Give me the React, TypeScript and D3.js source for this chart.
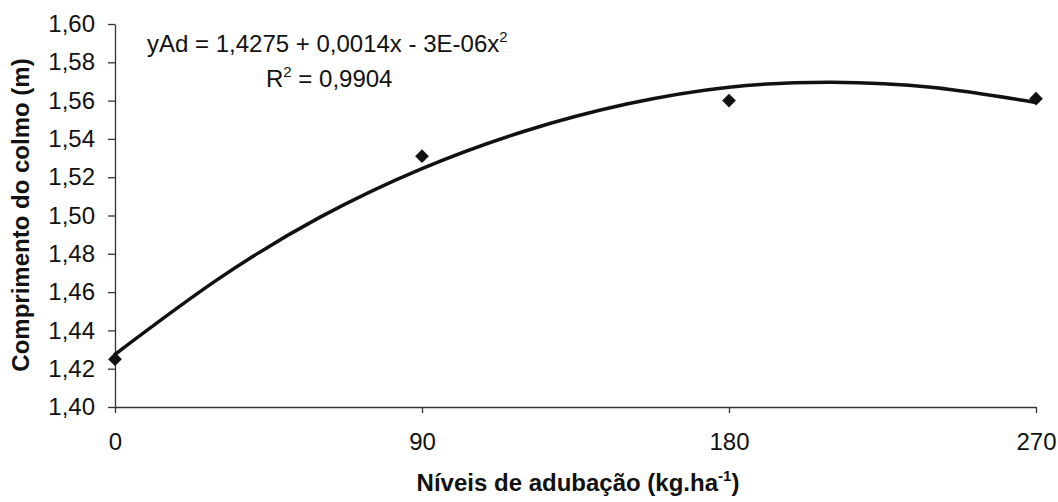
import React from "react";
import * as d3 from "d3";

// observed means
const doses = [0, 90, 180, 270];
const lengths = [1.425, 1.531, 1.56, 1.561];

// trend line
const trendX = [0, 30, 60, 90, 120, 150, 180, 210, 240, 270];
const trendY = [1.4275, 1.4665, 1.4990, 1.5245, 1.5440, 1.5582, 1.5670, 1.5696, 1.5668, 1.5590];

const yTicks = [1.4, 1.42, 1.44, 1.46, 1.48, 1.5, 1.52, 1.54, 1.56, 1.58, 1.6];
const xTicks = [0, 90, 180, 270];

export default function App() {
    const ref = React.useRef<SVGSVGElement>(null);

    React.useEffect(() => {
        drawChart();
    }, []);

    function drawChart() {
        const svg = d3.select(ref.current);
        svg.selectAll("*").remove();

        const font = "'Liberation Sans', Arial, sans-serif";
        const left = 115,
            right = 1036,
            top = 24,
            bottom = 407;

        var x = d3.scaleLinear().domain([0, 270]).range([left, right]);
        var y = d3.scaleLinear().domain([1.4, 1.6]).range([bottom, top]);

        const comma = (d: number) => d3.format(".2f")(d).replace(".", ",");

        // y axis
        var yAxis = svg
            .append("g")
            .attr("transform", `translate(${left},0)`)
            .call(
                d3
                    .axisLeft(y)
                    .tickValues(yTicks)
                    .tickFormat((d) => comma(+d))
                    .tickSize(7)
                    .tickSizeOuter(0)
                    .tickPadding(13)
            );
        yAxis.select(".domain").attr("stroke", "#333").attr("stroke-width", 1.3);
        yAxis.selectAll(".tick line").attr("stroke", "#333").attr("stroke-width", 1.3);
        yAxis
            .selectAll(".tick text")
            .attr("font-family", font)
            .attr("font-size", 24)
            .attr("fill", "#111");

        // x axis
        var xAxis = svg
            .append("g")
            .attr("transform", `translate(0,${bottom})`)
            .call(
                d3
                    .axisBottom(x)
                    .tickValues(xTicks)
                    .tickFormat((d) => String(d))
                    .tickSize(6)
                    .tickSizeOuter(0)
                    .tickPadding(20)
            );
        xAxis.select(".domain").attr("stroke", "#333").attr("stroke-width", 1.3);
        xAxis.selectAll(".tick line").attr("stroke", "#333").attr("stroke-width", 1.3);
        xAxis
            .selectAll(".tick text")
            .attr("font-family", font)
            .attr("font-size", 24)
            .attr("fill", "#111");

        // trend line
        const trend = trendX.map((d, i) => ({ x: d, y: trendY[i] }));
        svg.append("path")
            .datum(trend)
            .attr("fill", "none")
            .attr("stroke", "#111")
            .attr("stroke-width", 3.5)
            .attr("stroke-linecap", "round")
            .attr(
                "d",
                d3
                    .line<{ x: number; y: number }>()
                    .x((d) => x(d.x))
                    .y((d) => y(d.y))
                    .curve(d3.curveNatural)
            );

        // points
        svg.selectAll(".pt")
            .data(doses)
            .enter()
            .append("path")
            .attr("class", "pt")
            .attr("d", d3.symbol().type(d3.symbolDiamond2).size(120)())
            .attr("transform", (d, i) => `translate(${x(d)},${y(lengths[i])})`)
            .attr("fill", "#111");

        // equation
        const eq = svg
            .append("text")
            .attr("x", 147)
            .attr("y", 52)
            .attr("font-family", font)
            .attr("font-size", 24)
            .attr("fill", "#111");
        eq.append("tspan").text("yAd = 1,4275 + 0,0014x - 3E-06x");
        eq.append("tspan").attr("font-size", 15).attr("dy", -10).text("2");

        const r2 = svg
            .append("text")
            .attr("x", 266)
            .attr("y", 87)
            .attr("font-family", font)
            .attr("font-size", 24)
            .attr("fill", "#111");
        r2.append("tspan").text("R");
        r2.append("tspan").attr("font-size", 15).attr("dy", -10).text("2");
        r2.append("tspan").attr("dy", 10).text(" = 0,9904");

        // axis titles
        const xt = svg
            .append("text")
            .attr("x", 578)
            .attr("y", 491)
            .attr("text-anchor", "middle")
            .attr("font-family", font)
            .attr("font-weight", "bold")
            .attr("font-size", 24)
            .attr("fill", "#111");
        xt.append("tspan").text("Níveis de adubação (kg.ha");
        xt.append("tspan").attr("font-size", 15).attr("dy", -10).text("-1");
        xt.append("tspan").attr("dy", 10).text(")");

        svg.append("text")
            .attr("transform", `translate(29,215) rotate(-90)`)
            .attr("text-anchor", "middle")
            .attr("font-family", font)
            .attr("font-weight", "bold")
            .attr("font-size", 24)
            .attr("fill", "#111")
            .text("Comprimento do colmo (m)");
    }

    return (
        <svg
            ref={ref}
            width={1058}
            height={502}
            style={{ position: "absolute", left: 0, top: 0, background: "#fff" }}
        />
    );
}
